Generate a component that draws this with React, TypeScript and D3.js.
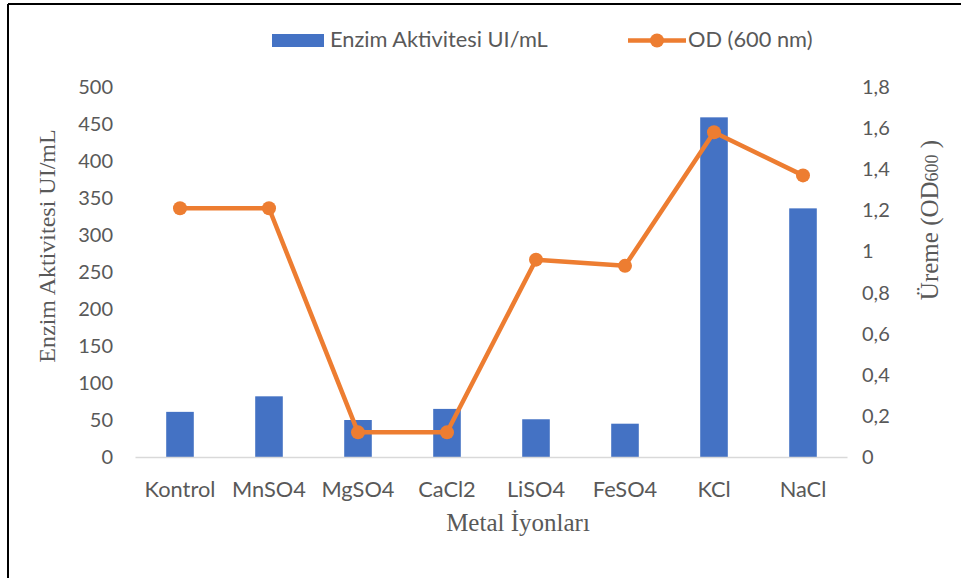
import React from "react";
import * as d3 from "d3";

const categories = ["Kontrol", "MnSO4", "MgSO4", "CaCl2", "LiSO4", "FeSO4", "KCl", "NaCl"];
const enzymeActivity = [61, 82, 50, 65, 51, 45, 459, 336];
const od600 = [1.21, 1.21, 0.12, 0.12, 0.96, 0.93, 1.58, 1.37];
const leftTicks = [0, 50, 100, 150, 200, 250, 300, 350, 400, 450, 500];
const rightTicks = [0, 0.2, 0.4, 0.6, 0.8, 1, 1.2, 1.4, 1.6, 1.8];

const W = 961;
const H = 578;
const plot = { left: 135.5, right: 847.5, top: 87, bottom: 457 };

const BLUE = "#4472C4";
const ORANGE = "#ED7D31";
const GREY_TEXT = "#595959";
const SANS = "Lato, 'Open Sans', sans-serif";
const SERIF = "'Liberation Serif', 'DejaVu Serif', serif";

export default function App() {
  const x = d3
    .scaleBand<string>()
    .domain(categories)
    .range([plot.left, plot.right])
    .paddingInner(0.69)
    .paddingOuter(0.345);
  const xc = d3.scalePoint<string>().domain(categories).range([plot.left, plot.right]).padding(0.5);
  const yL = d3.scaleLinear().domain([0, 500]).range([plot.bottom, plot.top]);
  const yR = d3.scaleLinear().domain([0, 1.8]).range([plot.bottom, plot.top]);

  const line = d3
    .line<number>()
    .x((_, i) => xc(categories[i]) as number)
    .y((d) => yR(d));

  const fmtR = (v: number) => String(+v.toFixed(1)).replace(".", ",");

  return (
    <svg width={W} height={H} style={{ position: "absolute", left: 0, top: 0, background: "#fff" }}>
      <rect x={0} y={0} width={W} height={H} fill="#fff" />
      {/* frame */}
      <line x1={8} y1={4} x2={W} y2={4} stroke="#000" strokeWidth={2} />
      <line x1={8} y1={4} x2={8} y2={H} stroke="#000" strokeWidth={2} />

      {/* legend */}
      <rect x={272} y={34} width={52} height={13} fill={BLUE} />
      <text x={330} y={47} fontFamily={SANS} fontSize={21.8} fill={GREY_TEXT}>
        Enzim Aktivitesi UI/mL
      </text>
      <line x1={628} y1={40.5} x2={686} y2={40.5} stroke={ORANGE} strokeWidth={4.5} />
      <circle cx={657} cy={40.5} r={7} fill={ORANGE} />
      <text x={688} y={47} fontFamily={SANS} fontSize={21.8} fill={GREY_TEXT}>
        OD (600 nm)
      </text>

      {/* bars */}
      {enzymeActivity.map((v, i) => (
        <rect
          key={categories[i]}
          x={x(categories[i])}
          y={yL(v)}
          width={x.bandwidth()}
          height={yL(0) - yL(v)}
          fill={BLUE}
        />
      ))}

      {/* baseline */}
      <line x1={plot.left} x2={plot.right} y1={plot.bottom + 0.5} y2={plot.bottom + 0.5} stroke="#d9d9d9" strokeWidth={1.5} />

      {/* OD line */}
      <path d={line(od600) || ""} fill="none" stroke={ORANGE} strokeWidth={4.5} strokeLinejoin="round" />
      {od600.map((v, i) => (
        <circle key={categories[i]} cx={xc(categories[i])} cy={yR(v)} r={7} fill={ORANGE} />
      ))}

      {/* left ticks */}
      {leftTicks.map((t) => (
        <text key={t} x={113} y={yL(t)} dy="0.35em" textAnchor="end" fontFamily={SANS} fontSize={20} fill={GREY_TEXT}>
          {t}
        </text>
      ))}
      {/* right ticks */}
      {rightTicks.map((t) => (
        <text key={t} x={862} y={yR(t)} dy="0.35em" textAnchor="start" fontFamily={SANS} fontSize={20} fill={GREY_TEXT}>
          {fmtR(t)}
        </text>
      ))}
      {/* category labels */}
      {categories.map((c) => (
        <text key={c} x={xc(c)} y={489} dy="0.35em" textAnchor="middle" fontFamily={SANS} fontSize={21.8} fill={GREY_TEXT}>
          {c}
        </text>
      ))}

      {/* axis titles */}
      <text x={518} y={522} dy="0.35em" textAnchor="middle" fontFamily={SERIF} fontSize={25} fill={GREY_TEXT}>
        Metal İyonları
      </text>
      <text
        transform="translate(47,246) rotate(-90)"
        dy="0.35em"
        textAnchor="middle"
        fontFamily={SERIF}
        fontSize={24}
        fill={GREY_TEXT}
      >
        Enzim Aktivitesi UI/mL
      </text>
      <text
        transform="translate(929,220) rotate(-90)"
        dy="0.35em"
        textAnchor="middle"
        fontFamily={SERIF}
        fontSize={25}
        fill={GREY_TEXT}
      >
        Üreme (OD<tspan fontSize={18}>600</tspan> )
      </text>
    </svg>
  );
}
